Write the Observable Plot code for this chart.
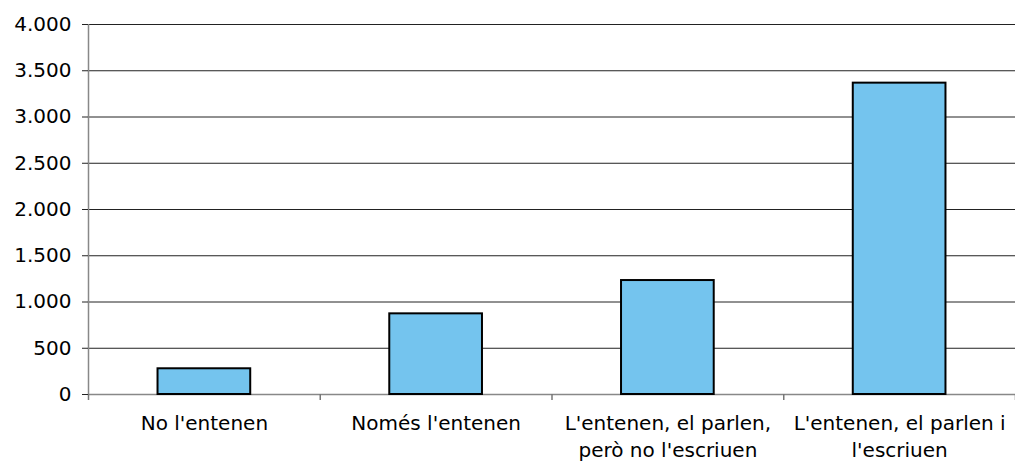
<!DOCTYPE html>
<html>
<head>
<meta charset="utf-8">
<script src="https://cdn.jsdelivr.net/npm/d3@7"></script>
<script src="https://cdn.jsdelivr.net/npm/@observablehq/plot@0.6"></script>
<style>
  html, body { margin: 0; padding: 0; background: #fff; }
  #chart svg { display: block; overflow: visible; }
</style>
</head>
<body>
<div id="chart"></div>
<script>
// Coneixement del català: nombre de persones per categoria
const categories = [
  "No l'entenen",
  "Només l'entenen",
  "L'entenen, el parlen,\nperò no l'escriuen",
  "L'entenen, el parlen i\nl'escriuen"
];
const values = [278, 872, 1232, 3366];
const yTicks = [0, 500, 1000, 1500, 2000, 2500, 3000, 3500, 4000];

const data = categories.map((label, i) => ({i, label, value: values[i]}));
const bounds = d3.range(categories.length + 1);

// Separador de milers amb punt (4.000)
const fmt = d3.formatLocale({decimal: ",", thousands: ".", grouping: [3], currency: ["", " €"]}).format(",d");

const barHalf = 0.2; // amplada de barra relativa a cada categoria

const chart = Plot.plot({
  width: 1015,
  height: 462,
  marginLeft: 88,
  marginRight: 0,
  marginTop: 24,
  marginBottom: 68,
  style: {fontFamily: "'DejaVu Sans', Verdana, sans-serif", fontSize: "20px", color: "#000", background: "#fff"},
  x: {type: "linear", domain: [0, categories.length], axis: null},
  y: {domain: [0, 4000], axis: null},
  marks: [
    Plot.gridY(yTicks.filter(d => d > 0), {stroke: "#222", strokeOpacity: 1, strokeWidth: 1}),
    Plot.ruleY([0], {stroke: "#888", strokeWidth: 1.5}),
    Plot.ruleX([0], {y1: 0, y2: 4000, stroke: "#888", strokeWidth: 1.5}),
    Plot.axisX({ticks: bounds, tickSize: 6, tickFormat: () => "", label: null, stroke: "#777", strokeWidth: 1.5}),
    Plot.axisY({ticks: yTicks, tickSize: 6, tickPadding: 11, tickFormat: fmt, label: null, stroke: "#222", fill: "#000", fontSize: 20}),
    Plot.rectY(data, {
      x1: d => d.i + 0.5 - barHalf,
      x2: d => d.i + 0.5 + barHalf,
      y: "value",
      fill: "#74C4EE",
      stroke: "#000",
      strokeWidth: 2
    }),
    Plot.text(data, {
      x: d => d.i + 0.5,
      y: 0,
      text: "label",
      lineAnchor: "top",
      lineHeight: 1.33,
      dy: 17,
      fill: "#000",
      fontSize: 20
    })
  ]
});

document.getElementById("chart").appendChild(chart);
</script>
</body>
</html>
